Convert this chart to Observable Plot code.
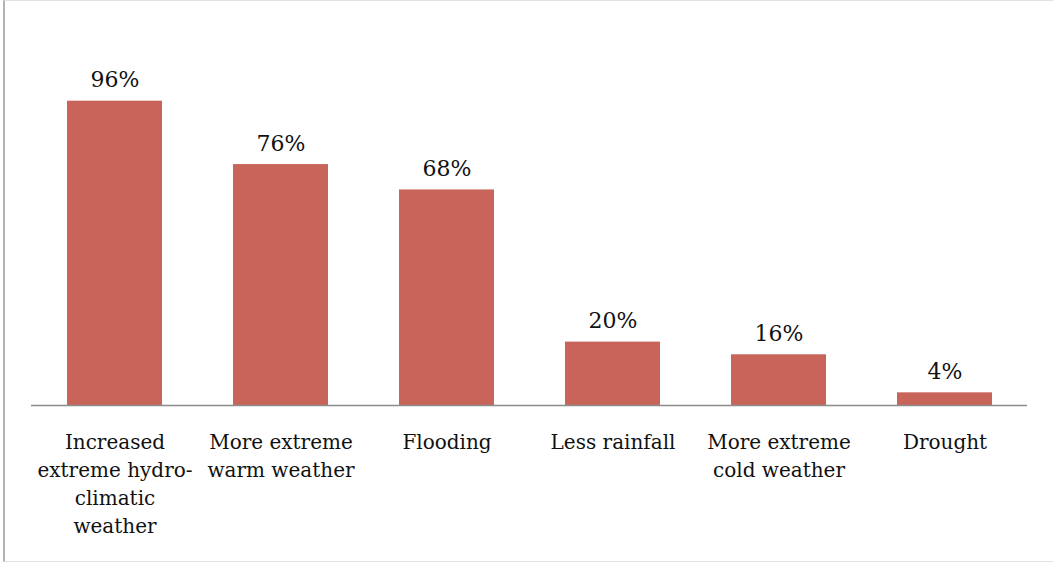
<!DOCTYPE html>
<html>
<head>
<meta charset="utf-8">
<script src="https://cdn.jsdelivr.net/npm/d3@7"></script>
<script src="https://cdn.jsdelivr.net/npm/@observablehq/plot@0.6"></script>
<style>
  html, body { margin: 0; padding: 0; background: #fff; }
  #wrap { position: relative; width: 1053px; height: 563px; overflow: hidden; }
  #edge {
    position: absolute; left: 3px; top: 0; width: 1048px; height: 560px;
    border-left: 2px solid #b4b4b4; border-top: 1px solid #e2e2e2;
    border-bottom: 1px solid #e2e2e2; border-right: 1px solid #e8e8e8;
    pointer-events: none;
  }
</style>
</head>
<body>
<div id="wrap"><div id="edge"></div></div>
<script>
// Perceived changes in weather
const categories = [
  "Increased\nextreme hydro-\nclimatic\nweather",
  "More extreme\nwarm weather",
  "Flooding",
  "Less rainfall",
  "More extreme\ncold weather",
  "Drought"
];
const shares = [96, 76, 68, 20, 16, 4];

const data = categories.map((c, i) => ({category: c, share: shares[i]}));
const serif = "'DejaVu Serif', 'Liberation Serif', serif";

const chart = Plot.plot({
  width: 1053,
  height: 563,
  marginLeft: 31,
  marginRight: 26,
  marginTop: 88,
  marginBottom: 158,
  style: {background: "transparent", fontFamily: serif},
  x: {domain: categories, paddingInner: 0.428, paddingOuter: 0.214, axis: null},
  y: {domain: [0, 100], axis: null},
  marks: [
    Plot.barY(data, {x: "category", y: "share", fill: "#c9645a"}),
    Plot.ruleY([0], {stroke: "#8c8c8c", strokeWidth: 1.5}),
    Plot.text(data, {
      x: "category", y: "share",
      text: d => `${d.share}%`,
      lineAnchor: "bottom", dy: -14,
      fontSize: 22, fill: "#111"
    }),
    Plot.text(data, {
      x: "category", y: 0,
      text: "category",
      lineAnchor: "top", dy: 24, lineHeight: 1.4,
      fontSize: 20, fill: "#111"
    })
  ]
});
document.getElementById("wrap").prepend(chart);
</script>
</body>
</html>
